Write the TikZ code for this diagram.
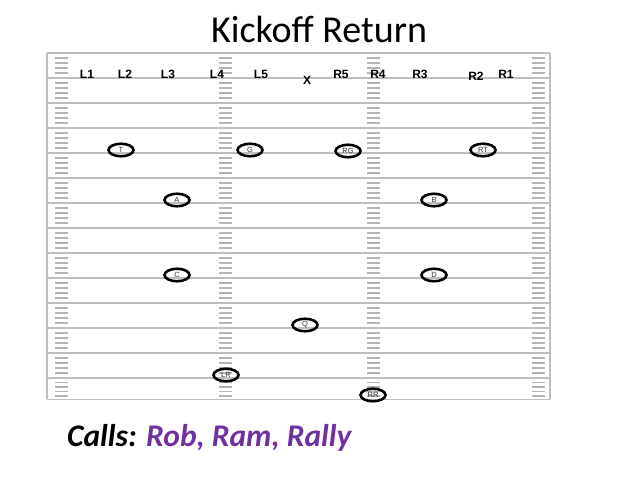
\documentclass[tikz,border=0pt]{standalone}
\usepackage{fontspec}
\setsansfont{Liberation Sans}
\newfontfamily\carlito{Carlito}
\usepackage{tikz}
\usetikzlibrary{
  positioning,
  shapes.geometric
}
\definecolor{yardgray}{RGB}{190,190,190}
\definecolor{hashgray}{RGB}{180,180,180}
\definecolor{callpurple}{RGB}{112,48,160}
\newcommand{\hashcol}[2]{% x position, top of section
  \foreach \t in {5,10,15,20} {
    \draw[hash] (#1,#2+\t) -- ++(13,0);
  }
}

\begin{document}
\begin{tikzpicture}[x=1pt,y=-1pt]
			\tikzset{
			yard/.style={yardgray, line width=1.6pt},
			hash/.style={hashgray, line width=1.5pt},
			spot/.style={
					font=\sffamily\bfseries\fontsize{12}{12}\selectfont,
					inner sep=0pt,
				},
			player/.style={
					ellipse, draw, line width=2.6pt,
					minimum width=25pt, minimum height=12.5pt, inner sep=0pt,
					font=\sffamily\fontsize{7.5}{7.5}\selectfont, text=black!80,
				},
			}
			\useasboundingbox (0,0) rectangle (638,479);

			% field
			\foreach \y in {53,78,...,378} {
				\draw[yard] (47,\y) -- (550,\y);
			}
			\draw[yard, line width=1pt] (47,399) -- (550,399);
			\draw[yard, line width=2.2pt] (47,53) -- (47,399);
			\draw[yard, line width=2.2pt] (550,53) -- (550,399);
			\foreach \y in {53,78,...,353} {
				\foreach \x in {55,219,367,532} {
					\hashcol{\x}{\y}
				}
			}
			\foreach \x in {55,219,367,532} {
				\foreach \t in {4.5,9,13.5,18} {
					\draw[hash] (\x,378+\t) -- ++(13,0);
				}
			}

			% title and calls
			\node (title) at (319,29) {\carlito\fontsize{38}{38}\selectfont Kickoff Return};
			\node[anchor=base west, inner sep=0pt] (calls) at (67,446)
				{\carlito\bfseries\itshape\fontsize{31.5}{31.5}\selectfont Calls: \textcolor{callpurple}{Rob, Ram, Rally}};

			% lineup spots
			\node[spot] (l1) at (87,74) {L1};
			\node[spot] (l2) at (125,74) {L2};
			\node[spot] (l3) at (168,74) {L3};
			\node[spot] (l4) at (217,74) {L4};
			\node[spot] (l5) at (261,74) {L5};
			\node[spot] (kicker) at (307,80) {X};
			\node[spot] (r5) at (341,74) {R5};
			\node[spot] (r4) at (378,74) {R4};
			\node[spot] (r3) at (420,74) {R3};
			\node[spot] (r2) at (476,76) {R2};
			\node[spot] (r1) at (506,74) {R1};

			% return team
			\node[player] (t) at (121,150) {T};
			\node[player] (g) at (250,150) {G};
			\node[player] (rg) at (348,151) {RG};
			\node[player] (rt) at (483,150) {RT};
			\node[player] (a) at (177,200) {A};
			\node[player] (b) at (434,200) {B};
			\node[player] (c) at (177,275) {C};
			\node[player] (d) at (434,275) {D};
			\node[player] (q) at (305,325) {Q};
			\node[player] (lr) at (226,375) {LR};
			\node[player] (rr) at (373,395) {RR};
		\end{tikzpicture}
\end{document}
